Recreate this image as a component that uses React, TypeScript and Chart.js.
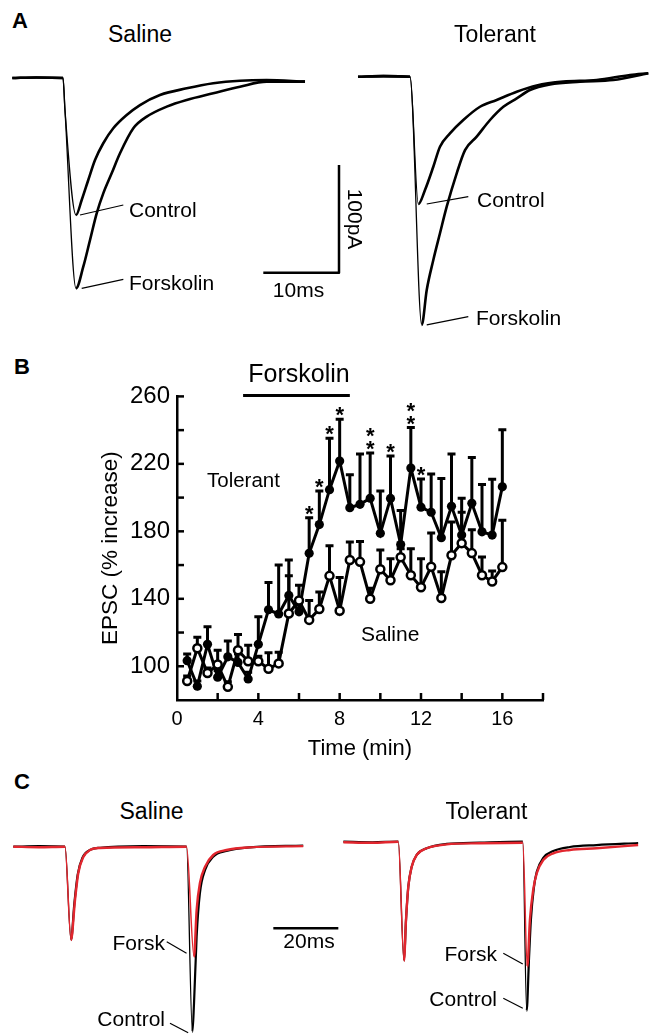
import React, { useEffect, useRef } from 'react';
import { Chart, registerables } from 'chart.js';

Chart.register(...registerables);

const FONT = "'Liberation Sans', Arial, Helvetica, sans-serif";
const RED = '#e2262e';

// ---------- Panel B data ----------
const timeMin = [0.5, 1, 1.5, 2, 2.5, 3, 3.5, 4, 4.5, 5, 5.5, 6, 6.5, 7, 7.5, 8, 8.5, 9, 9.5, 10, 10.5, 11, 11.5, 12, 12.5, 13, 13.5, 14, 14.5, 15, 15.5, 16];
const tolerantMean = [103.3, 88.2, 113, 93.5, 105.6, 102.3, 92.5, 113, 133.5, 131, 142, 132.3, 167, 184, 204.7, 221.7, 194, 196, 199.6, 178.8, 199.5, 172.2, 217.5, 194.3, 191.3, 176.2, 194.8, 177.8, 196.6, 179.7, 177.8, 206.4];
const tolerantSem = [3.9, 3, 10.4, 4, 9.4, 5, 4, 16.4, 16.2, 29, 21, 4, 21, 19.9, 30.5, 24.8, 19.6, 29.8, 26.9, 25.1, 25.1, 20.1, 24.1, 16.7, 22.7, 35.1, 31, 21.8, 27.2, 28.1, 33.1, 33.9];
const salineMean = [91.3, 110.7, 96, 101, 87.8, 109.5, 103, 103, 98.5, 101.7, 131.3, 139, 127.5, 134, 153.6, 132.9, 163, 161.9, 140, 157.5, 151, 164.6, 154, 146.8, 159, 140.5, 165.8, 173, 167.1, 154, 150.3, 158.8];
const salineSem = [3, 6.5, 3, 8.5, 3, 9.3, 9.4, 3, 9.5, 6.6, 22.3, 9, 11.5, 10, 17.8, 19.7, 10.7, 12.1, 6.3, 11.5, 12.7, 5, 15.7, 17, 20, 15.5, 19.7, 18.3, 13.9, 10.8, 6.2, 27.7];
const starTimes = [6.5, 7, 7.5, 8, 9.5, 10.5, 11.5, 12];
const starCounts = [1, 1, 1, 1, 2, 1, 2, 1];
const forskolinPeriod = [3.25, 8.5];
const yTickLabels = [100, 140, 180, 220, 260];
const xTickLabels = [0, 4, 8, 12, 16];

// ---------- Panel A traces: [ms, pA] ----------
const aSalineControl = [[-6.7, 0], [-3.5, 0.5], [0, 0], [0.26, -29.7], [1.72, -127.2], [2.47, -113.3], [3.34, -94.7], [4.23, -76.1], [5.32, -60.6], [6.64, -46.7], [8.41, -34.4], [10.17, -25.1], [12.81, -15.8], [16.34, -9.6], [19.85, -4.9], [23.38, -2.5], [26.9, -1.9], [31.97, -3.4]];
const aSalineForsk = [[-6.7, 0], [-3.5, 0.5], [0, 0], [0.26, -29.7], [1.72, -195.3], [2.68, -175.2], [3.57, -150.4], [4.45, -125.6], [5.32, -107.1], [6.43, -88.5], [7.53, -69.9], [9.29, -46.7], [11.06, -35.9], [13.7, -26.6], [16.34, -20.4], [19.85, -14.2], [23.38, -8.1], [26.9, -3.4], [31.97, -3.4]];
const aTolerantControl = [[-6.87, 0], [-3.5, 0.5], [0, 0], [1.1, -118.2], [1.98, -105.2], [3.08, -83.6], [3.96, -65], [5.28, -52.6], [7.04, -40.2], [9.25, -27.9], [11.45, -21.6], [14.1, -13.9], [16.74, -8.1], [20.25, -4.6], [24.66, -3.1], [29.06, 1.6], [31.48, 3.2]];
const aTolerantForsk = [[-6.87, 0], [-3.5, 0.5], [0, 0], [1.55, -230.5], [2.21, -198], [3.08, -170.2], [3.96, -145.4], [4.85, -120.7], [6.17, -89.7], [7.27, -68.1], [8.81, -55.7], [10.57, -40.2], [12.33, -27.9], [14.1, -20.1], [15.85, -12.3], [18.49, -7.1], [22.46, -4.6], [26.85, -3.1], [31.48, 3.2]];
const aScaleBar = [[26.46, -180.8], [36.46, -180.8], [36.46, -80.8]]; // 10 ms, 100 pA
const aSalineLeaders = [[[2.25, -127.2], [7.97, -117.9]], [[2.47, -195.3], [7.97, -186.9]]];
const aTolerantLeaders = [[[2.21, -118.2], [7.7, -111.4]], [[2.21, -230.5], [7.7, -222.8]]];

// ---------- Panel C traces: [ms, pA] ----------
const cSalineControl = [[-15.9, 0], [-8, 0.5], [0, 0], [1.85, -86.6], [2.9, -52], [3.9, -26], [5.4, -10], [7.7, -3], [10.8, -1], [24, 0.5], [37.4, 0], [39.2, -172], [39.7, -145.4], [40.5, -83.6], [41.5, -43.3], [43.1, -21.6], [45.6, -9.3], [49.7, -4], [56.9, -0.6], [73.3, 1]];
const cSalineForsk = [[-15.9, 0], [-8, -0.5], [0, 0], [1.85, -86.6], [3.08, -49.5], [4.09, -24.4], [5.63, -9.6], [7.69, -3.1], [10.77, -1.2], [24, -0.5], [37.4, 0], [39.7, -102.1], [40.5, -58.8], [41.5, -34], [43.1, -18.6], [45.6, -7.7], [49.7, -3.1], [56.9, -0.6], [73.3, 0.5]];
const cTolerantControl = [[-16.9, 0], [-8, -0.5], [0, 0], [1.75, -110.5], [2.37, -72.7], [3.08, -41.8], [4.12, -23.2], [5.66, -12.3], [8.74, -6.1], [14.9, -2.1], [25.1, -0.9], [38.3, 0], [39.5, -157], [40.2, -110], [40.8, -72.7], [41.7, -43], [42.6, -28], [44.6, -15], [47.7, -8.6], [52.8, -4.9], [61, -3.1], [73.8, -1.2]];
const cTolerantForsk = [[-16.9, -0.5], [-8, -1], [0, 0], [1.75, -110.5], [2.37, -72.7], [3.08, -41.8], [4.12, -23.2], [5.66, -12.3], [8.74, -6.1], [14.9, -2.5], [25.1, -1.5], [38.3, -1], [39.7, -116.1], [40.5, -72.5], [41.5, -44.8], [42.6, -29.3], [44.6, -17], [47.7, -10.8], [52.8, -7.7], [61, -6.1], [73.8, -3.1]];
const cScaleBar = [[64.1, -75.8], [84.1, -75.8]]; // 20 ms
const cSalineLeaders = [[[31.3, -88.2], [37.4, -99]], [[32.3, -164], [37.9, -172.7]]];
const cTolerantLeaders = [[[32.3, -103.6], [38.3, -113.6]], [[32.3, -145.4], [38.3, -154.7]]];

// ---------- layout boxes (placement only) ----------
const boxASaline = { left: 0, top: 50, width: 360, height: 290, originX: 63, originY: 78, pxPerX: 7.57, pxPerY: 1.077 };
const boxATolerant = { left: 330, top: 50, width: 323, height: 290, originX: 410, originY: 76.7, pxPerX: 7.57, pxPerY: 1.077 };
const boxCSaline = { left: 0, top: 830, width: 345, height: 204, originX: 65, originY: 846.7, pxPerX: 3.25, pxPerY: 1.077 };
const boxCTolerant = { left: 330, top: 830, width: 323, height: 204, originX: 398.3, originY: 841.7, pxPerX: 3.25, pxPerY: 1.077 };

type Box = typeof boxASaline;
type TraceSpec = { data: number[][]; color: string; width: number; thin?: number; smooth?: boolean; order?: number };

function toXY(arr: number[][]) {
  return arr.map(([x, y]) => ({ x, y }));
}

function traceConfig(box: Box, traces: TraceSpec[]): any {
  const xMin = (box.left - box.originX) / box.pxPerX;
  const xMax = (box.left + box.width - box.originX) / box.pxPerX;
  const yMax = (box.originY - box.top) / box.pxPerY;
  const yMin = -(box.top + box.height - box.originY) / box.pxPerY;
  return {
    type: 'line',
    data: {
      datasets: traces.map((t) => ({
        data: toXY(t.data),
        borderColor: t.color,
        borderWidth: t.width,
        pointRadius: 0,
        fill: false,
        clip: false,
        order: t.order ?? 0,
        tension: 0,
        cubicInterpolationMode: t.smooth ? 'monotone' : 'default',
        borderJoinStyle: 'round',
        borderCapStyle: 'butt',
        segment: t.thin
          ? { borderWidth: (ctx: any) => (ctx.p1.parsed.y < ctx.p0.parsed.y - 5 ? t.thin : t.width) }
          : undefined,
      })),
    },
    options: {
      responsive: false,
      animation: false,
      devicePixelRatio: 1,
      events: [],
      layout: { padding: 0 },
      plugins: { legend: { display: false }, tooltip: { enabled: false }, title: { display: false } },
      scales: {
        x: { type: 'linear', display: false, min: xMin, max: xMax },
        y: { type: 'linear', display: false, min: yMin, max: yMax },
      },
    },
  };
}

function ChartCanvas({ left, top, width, height, config }: { left: number; top: number; width: number; height: number; config: () => any }) {
  const ref = useRef<HTMLCanvasElement>(null);
  useEffect(() => {
    const chart = new Chart(ref.current as HTMLCanvasElement, config());
    return () => chart.destroy();
  }, []);
  return (
    <canvas
      ref={ref}
      width={width}
      height={height}
      style={{ position: 'absolute', left, top, width, height, display: 'block' }}
    />
  );
}

function TraceChart({ box, traces }: { box: Box; traces: TraceSpec[] }) {
  return <ChartCanvas left={box.left} top={box.top} width={box.width} height={box.height} config={() => traceConfig(box, traces)} />;
}

// ---------- Panel B plugins ----------
const errorBarPlugin = {
  id: 'errorBars',
  beforeDatasetsDraw(chart: any) {
    const { ctx, scales } = chart;
    const xs = scales.x;
    const ys = scales.y;
    ctx.save();
    ctx.strokeStyle = '#000';
    ctx.lineWidth = 3;
    chart.data.datasets.forEach((ds: any) => {
      if (!ds.errors) return;
      ds.data.forEach((p: any, i: number) => {
        const px = xs.getPixelForValue(p.x);
        const y0 = ys.getPixelForValue(p.y);
        const y1 = ys.getPixelForValue(p.y + ds.errors[i]);
        ctx.beginPath();
        ctx.moveTo(px, y0);
        ctx.lineTo(px, y1);
        ctx.moveTo(px - 4, y1);
        ctx.lineTo(px + 4, y1);
        ctx.stroke();
      });
    });
    ctx.restore();
  },
};

const starPlugin = {
  id: 'stars',
  afterDatasetsDraw(chart: any) {
    const { ctx, scales } = chart;
    ctx.save();
    ctx.fillStyle = '#000';
    const fs = 22;
    ctx.font = `bold ${fs}px ${FONT}`;
    ctx.textAlign = 'center';
    ctx.textBaseline = 'alphabetic';
    starTimes.forEach((t, k) => {
      const i = timeMin.indexOf(t);
      const px = scales.x.getPixelForValue(t);
      const capY = scales.y.getPixelForValue(tolerantMean[i] + tolerantSem[i]);
      for (let n = 0; n < starCounts[k]; n++) {
        const cy = capY - 9 - n * 13;
        ctx.fillText('*', px, cy + 0.55 * fs);
      }
    });
    ctx.restore();
  },
};

const inwardTicksPlugin = {
  id: 'inwardTicks',
  afterDraw(chart: any) {
    const { ctx, chartArea, scales } = chart;
    ctx.save();
    ctx.strokeStyle = '#000';
    ctx.lineWidth = 2.5;
    scales.y.ticks.forEach((t: any) => {
      if (t.value <= scales.y.min) return;
      const py = scales.y.getPixelForValue(t.value);
      ctx.beginPath();
      ctx.moveTo(chartArea.left, py);
      ctx.lineTo(chartArea.left + 7, py);
      ctx.stroke();
    });
    scales.x.ticks.forEach((t: any) => {
      if (t.value <= scales.x.min) return;
      const px = scales.x.getPixelForValue(t.value);
      ctx.beginPath();
      ctx.moveTo(px, chartArea.bottom);
      ctx.lineTo(px, chartArea.bottom - 7);
      ctx.stroke();
    });
    ctx.restore();
  },
};

function epscConfig(): any {
  return {
    type: 'line',
    data: {
      datasets: [
        {
          label: 'Saline',
          data: timeMin.map((t, i) => ({ x: t, y: salineMean[i] })),
          errors: salineSem,
          borderColor: '#000',
          borderWidth: 3,
          pointRadius: 4,
          pointBorderWidth: 2.5,
          pointBackgroundColor: '#fff',
          pointBorderColor: '#000',
          order: 0,
          clip: false,
        },
        {
          label: 'Tolerant',
          data: timeMin.map((t, i) => ({ x: t, y: tolerantMean[i] })),
          errors: tolerantSem,
          borderColor: '#000',
          borderWidth: 3,
          pointRadius: 4.6,
          pointBorderWidth: 0,
          pointBackgroundColor: '#000',
          pointBorderColor: '#000',
          order: 1,
          clip: false,
        },
        {
          label: 'Forskolin',
          data: forskolinPeriod.map((t) => ({ x: t, y: 260.5 })),
          borderColor: '#000',
          borderWidth: 3,
          pointRadius: 0,
          order: 2,
          clip: false,
        },
      ],
    },
    options: {
      responsive: false,
      animation: false,
      devicePixelRatio: 1,
      events: [],
      layout: { padding: { top: 15, right: 5, left: 0, bottom: 0 } },
      plugins: { legend: { display: false }, tooltip: { enabled: false }, title: { display: false } },
      scales: {
        x: {
          type: 'linear',
          min: 0,
          max: 18,
          afterFit: (s: any) => { s.height = 65; },
          grid: { drawOnChartArea: false, drawTicks: false },
          border: { display: true, width: 2.5, color: '#000' },
          ticks: {
            stepSize: 2,
            autoSkip: false,
            maxRotation: 0,
            padding: 7,
            color: '#000',
            font: { family: FONT, size: 20 },
            callback: (v: any) => (xTickLabels.includes(Number(v)) ? String(v) : ''),
          },
          title: { display: true, text: 'Time (min)', color: '#000', font: { family: FONT, size: 22 }, padding: { top: 0, bottom: 3 } },
        },
        y: {
          type: 'linear',
          min: 80,
          max: 260,
          afterFit: (s: any) => { s.width = 84; },
          grid: { drawOnChartArea: false, drawTicks: false },
          border: { display: true, width: 2.5, color: '#000' },
          ticks: {
            stepSize: 20,
            autoSkip: false,
            padding: 7,
            color: '#000',
            font: { family: FONT, size: 24 },
            callback: (v: any) => (yTickLabels.includes(Number(v)) ? String(v) : ''),
          },
          title: { display: true, text: 'EPSC (% increase)', color: '#000', font: { family: FONT, size: 22.5 }, padding: { top: 4, bottom: 0 } },
        },
      },
    },
    plugins: [errorBarPlugin, inwardTicksPlugin, starPlugin],
  };
}

// ---------- text labels ----------
type Lbl = { t: string; x: number; y: number; s: number; a?: 'l' | 'c' | 'r'; b?: boolean; rot?: number };
const labels: Lbl[] = [
  { t: 'A', x: 12, y: 21, s: 22, b: true },
  { t: 'Saline', x: 140, y: 34, s: 23, a: 'c' },
  { t: 'Tolerant', x: 495, y: 34, s: 23, a: 'c' },
  { t: 'Control', x: 129, y: 208.5, s: 21 },
  { t: 'Forskolin', x: 129, y: 282, s: 21 },
  { t: 'Control', x: 477, y: 199, s: 21 },
  { t: 'Forskolin', x: 476, y: 317, s: 21 },
  { t: '10ms', x: 298.5, y: 289, s: 21, a: 'c' },
  { t: '100pA', x: 355, y: 219, s: 21, a: 'c', rot: 90 },
  { t: 'B', x: 14, y: 367, s: 22, b: true },
  { t: 'Forskolin', x: 299, y: 373, s: 25, a: 'c' },
  { t: 'Tolerant', x: 207, y: 480, s: 20.5 },
  { t: 'Saline', x: 361, y: 633, s: 21 },
  { t: 'C', x: 14, y: 782, s: 22, b: true },
  { t: 'Saline', x: 151.5, y: 811, s: 23, a: 'c' },
  { t: 'Tolerant', x: 486.5, y: 811, s: 23, a: 'c' },
  { t: '20ms', x: 309, y: 940, s: 21, a: 'c' },
  { t: 'Forsk', x: 165, y: 942, s: 21, a: 'r' },
  { t: 'Control', x: 165, y: 1018, s: 21, a: 'r' },
  { t: 'Forsk', x: 497, y: 953, s: 21, a: 'r' },
  { t: 'Control', x: 497, y: 998, s: 21, a: 'r' },
];

function Label({ l }: { l: Lbl }) {
  const tx = l.a === 'c' ? '-50%' : l.a === 'r' ? '-100%' : '0';
  return (
    <div
      style={{
        position: 'absolute',
        left: l.x,
        top: l.y,
        transform: `translate(${tx}, -50%)${l.rot ? ` rotate(${l.rot}deg)` : ''}`,
        fontFamily: FONT,
        fontSize: l.s,
        fontWeight: l.b ? 700 : 400,
        lineHeight: 1,
        whiteSpace: 'nowrap',
        color: '#000',
      }}
    >
      {l.t}
    </div>
  );
}

const lead = (arr: number[][][]): TraceSpec[] => arr.map((d) => ({ data: d, color: '#000', width: 1.2 }));

export default function App() {
  return (
    <div style={{ position: 'absolute', left: 0, top: 0, width: 653, height: 1034, background: '#fff', overflow: 'hidden' }}>
      <TraceChart
        box={boxASaline}
        traces={[
          { data: aSalineControl, color: '#000', width: 2.6, thin: 1.3, smooth: true },
          { data: aSalineForsk, color: '#000', width: 2.6, thin: 1.3, smooth: true },
          { data: aScaleBar, color: '#000', width: 2.5 },
          ...lead(aSalineLeaders),
        ]}
      />
      <TraceChart
        box={boxATolerant}
        traces={[
          { data: aTolerantControl, color: '#000', width: 2.6, thin: 1.3, smooth: true },
          { data: aTolerantForsk, color: '#000', width: 2.6, thin: 1.3, smooth: true },
          ...lead(aTolerantLeaders),
        ]}
      />
      <ChartCanvas left={93} top={375} width={457} height={390} config={epscConfig} />
      <TraceChart
        box={boxCSaline}
        traces={[
          { data: cSalineControl, color: '#000', width: 2.2, thin: 1.3, smooth: true, order: 1 },
          { data: cSalineForsk, color: RED, width: 2.4, thin: 1.5, smooth: true, order: 0 },
          { data: cScaleBar, color: '#000', width: 2.5 },
          ...lead(cSalineLeaders),
        ]}
      />
      <TraceChart
        box={boxCTolerant}
        traces={[
          { data: cTolerantControl, color: '#000', width: 2.2, thin: 1.3, smooth: true, order: 1 },
          { data: cTolerantForsk, color: RED, width: 2.4, thin: 1.5, smooth: true, order: 0 },
          ...lead(cTolerantLeaders),
        ]}
      />
      {labels.map((l, i) => (
        <Label key={i} l={l} />
      ))}
    </div>
  );
}
